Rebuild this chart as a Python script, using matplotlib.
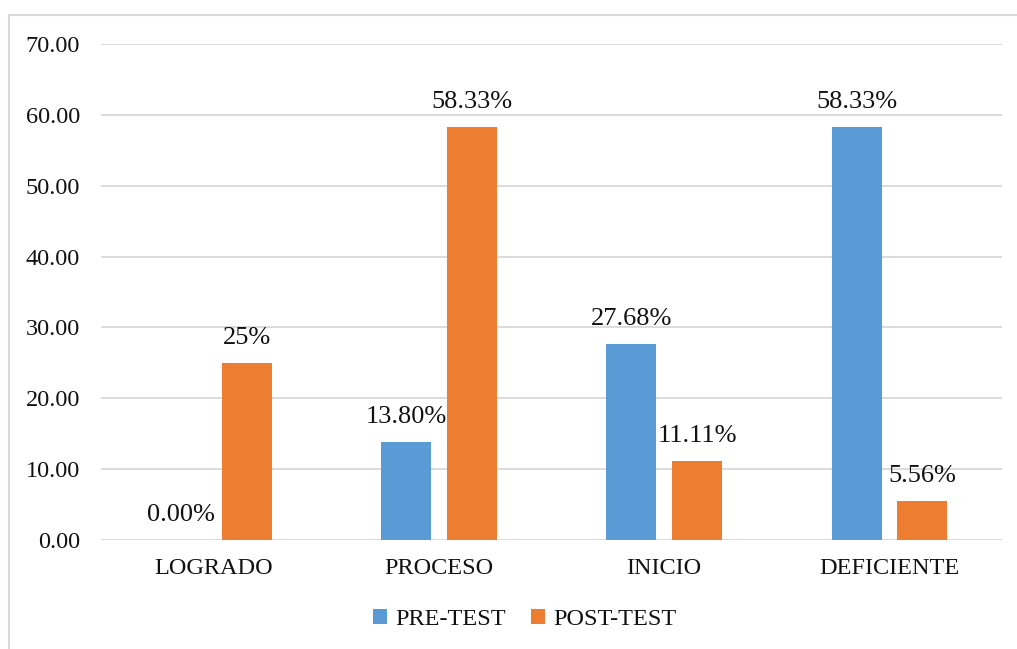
import numpy as np
import matplotlib.pyplot as plt
from matplotlib.patches import Rectangle

plt.rcParams['font.family'] = ['Liberation Serif', 'DejaVu Serif']

categories = ["LOGRADO", "PROCESO", "INICIO", "DEFICIENTE"]
pre_test = [0.00, 13.80, 27.68, 58.33]
post_test = [25.00, 58.33, 11.11, 5.56]
pre_labels = ["0.00%", "13.80%", "27.68%", "58.33%"]
post_labels = ["25%", "58.33%", "11.11%", "5.56%"]

BLUE = '#5B9BD5'
ORANGE = '#ED7D31'
GRID = '#D9D9D9'

fig = plt.figure(figsize=(10.17, 6.49), dpi=100)
ax = fig.add_axes([0.0993, 0.168, 0.886, 0.764])

x = np.arange(len(categories))
w = 0.222
off = 0.146
b1 = ax.bar(x - off, pre_test, w, color=BLUE, label="PRE-TEST", zorder=3)
b2 = ax.bar(x + off, post_test, w, color=ORANGE, label="POST-TEST", zorder=3)

# percent labels above each bar
for rects, labels in ((b1, pre_labels), (b2, post_labels)):
    for rect, lab in zip(rects, labels):
        ax.annotate(lab, (rect.get_x() + rect.get_width() / 2, rect.get_height()),
                    xytext=(0, 10), textcoords="offset points",
                    ha='center', va='bottom', fontsize=19, color='#111111')

ax.set_xlim(-0.5, 3.5)
ax.set_ylim(0, 70)
ax.set_yticks(np.arange(0, 71, 10))
ax.set_yticklabels(["%.2f" % v for v in np.arange(0, 71, 10)])
ax.set_xticks(x)
ax.set_xticklabels(categories)
ax.tick_params(axis='y', length=0, pad=15, labelsize=17.5, labelcolor='#111111')
ax.tick_params(axis='x', length=0, pad=13, labelsize=17.5, labelcolor='#111111')
ax.grid(axis='y', color=GRID, linewidth=1.3, zorder=0)
for s in ax.spines.values():
    s.set_visible(False)

fig.legend(handles=[b1, b2], loc='center', bbox_to_anchor=(0.516, 0.045),
           ncol=2, frameon=False, fontsize=17.5, handlelength=0.55, handleheight=0.55,
           handletextpad=0.35, columnspacing=1.05, labelcolor='#111111')

fig.patches.append(Rectangle((9 / 1017, -0.05), 1.2, 1 - 15 / 649 + 0.05,
                             transform=fig.transFigure, fill=False,
                             edgecolor=GRID, linewidth=1.5))

fig.savefig("out.png", dpi=100)
